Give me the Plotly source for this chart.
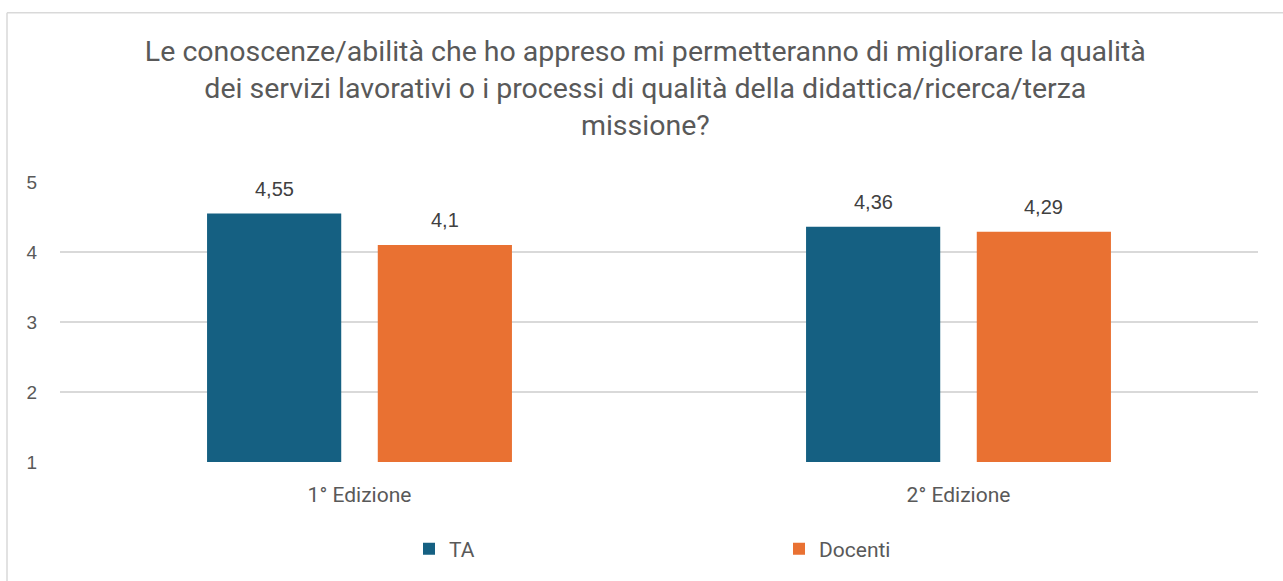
import plotly.graph_objects as go

# Survey results: average score per edition and respondent group
categories = ["1° Edizione", "2° Edizione"]
ta_values = [4.55, 4.36]
docenti_values = [4.10, 4.29]
series_names = ["TA", "Docenti"]
y_ticks = [1, 2, 3, 4, 5]

title_text = ("Le conoscenze/abilità che ho appreso mi permetteranno di migliorare la qualità<br>"
              "dei servizi lavorativi o i processi di qualità della didattica/ricerca/terza<br>"
              "missione?")

COL_TA = "#156082"
COL_DOC = "#E97132"
TEXT = "#595959"
LABEL = "#404040"
GRID = "#D9D9D9"

W, H = 1283, 581
ML, MR, MT, MB = 60, 25, 182, 116
BARGAP = 0.43
GROUPGAP = 0.214

fig = go.Figure()
for name, vals, col in [(series_names[0], ta_values, COL_TA),
                        (series_names[1], docenti_values, COL_DOC)]:
    fig.add_trace(go.Bar(
        name=name, x=categories, y=vals, marker=dict(color=col, line=dict(width=0)),
        hoverinfo="x+y+name",
    ))

def fmt(v):
    s = f"{v:.2f}".rstrip("0").rstrip(".")
    return s.replace(".", ",")

# value labels above each bar (bar centre offset within the group)
offset = (1 - BARGAP) / 4
annotations = []
for si, vals in enumerate([ta_values, docenti_values]):
    sign = -1 if si == 0 else 1
    for ci, v in enumerate(vals):
        annotations.append(dict(
            x=ci + sign * offset, y=v, xref="x", yref="y",
            text=fmt(v), showarrow=False, yanchor="middle", yshift=25,
            font=dict(family="Liberation Sans", size=20, color=LABEL),
        ))

# outer chart border (top and left edges visible)
px_x = lambda p: (p - ML) / (W - ML - MR)
px_y = lambda p: (H - MB - p) / (H - MT - MB)
shapes = [
    dict(type="line", xref="paper", yref="paper", x0=px_x(7), x1=px_x(1300),
         y0=px_y(11), y1=px_y(11), line=dict(color=GRID, width=1.5)),
    dict(type="line", xref="paper", yref="paper", x0=px_x(7), x1=px_x(7),
         y0=px_y(11), y1=px_y(600), line=dict(color=GRID, width=1.5)),
]

fig.update_layout(
    width=W, height=H,
    margin=dict(l=ML, r=MR, t=MT, b=MB),
    paper_bgcolor="white", plot_bgcolor="white",
    barmode="group", bargap=BARGAP, bargroupgap=GROUPGAP,
    title=dict(text=title_text, x=0.503, xanchor="center", y=1 - 61 / H, yanchor="middle",
               font=dict(family="Roboto", size=28.5, color=TEXT)),
    font=dict(family="Roboto", color=TEXT),
    xaxis=dict(showgrid=False, showline=False, ticks="", ticklabelstandoff=18,
               tickfont=dict(family="Roboto", size=21, color=TEXT)),
    yaxis=dict(range=[1, 5], tickvals=y_ticks, showgrid=True, gridcolor=GRID, gridwidth=1.5,
               zeroline=False, showline=False, ticklabelstandoff=22,
               tickfont=dict(family="Liberation Sans", size=19, color=TEXT)),
    legend=dict(orientation="h", x=px_x(409), xanchor="left", y=px_y(553), yanchor="middle",
                entrywidth=325, entrywidthmode="pixels",
                font=dict(family="Roboto", size=21, color=TEXT), traceorder="normal"),
    annotations=annotations, shapes=shapes,
)

fig.write_html("out.html")
